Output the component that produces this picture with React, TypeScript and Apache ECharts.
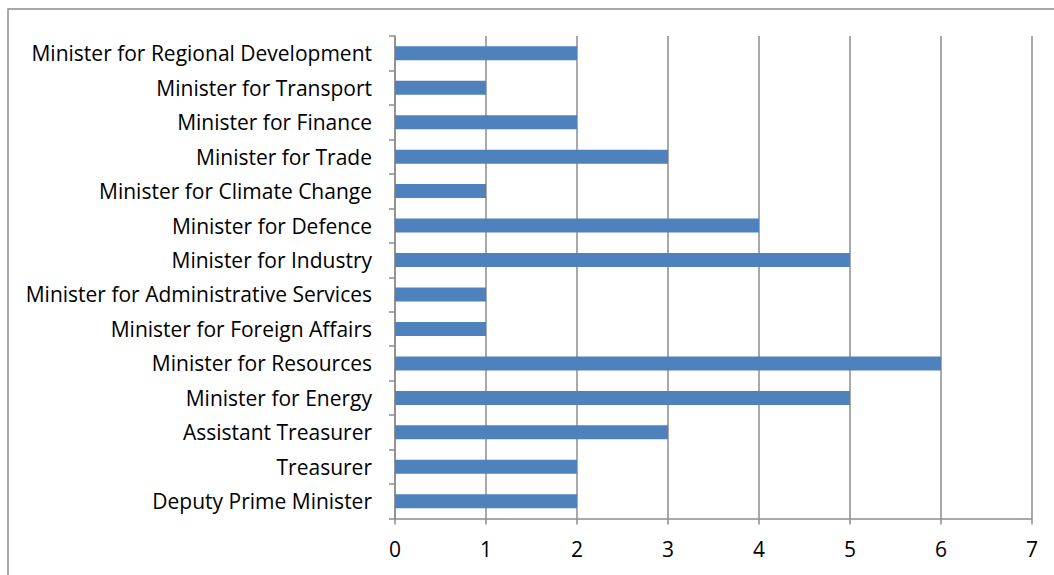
import React, { useEffect, useRef } from "react";
import * as echarts from "echarts";

const categories = [
  "Deputy Prime Minister",
  "Treasurer",
  "Assistant Treasurer",
  "Minister for Energy",
  "Minister for Resources",
  "Minister for Foreign Affairs",
  "Minister for Administrative Services",
  "Minister for Industry",
  "Minister for Defence",
  "Minister for Climate Change",
  "Minister for Trade",
  "Minister for Finance",
  "Minister for Transport",
  "Minister for Regional Development",
];
const values = [2, 2, 3, 5, 6, 1, 1, 5, 4, 1, 3, 2, 1, 2];
const xMin = 0;
const xMax = 7;
const xInterval = 1;

export default function App() {
  const ref = useRef<HTMLDivElement>(null);
  useEffect(() => {
    if (!ref.current) return;
    const chart = echarts.init(ref.current, undefined, { renderer: "svg" });
    const font = "'Open Sans', sans-serif";
    chart.setOption({
      animation: false,
      backgroundColor: "#ffffff",
      graphic: [
        {
          type: "rect",
          shape: { x: 8, y: 9, width: 1100, height: 620 },
          style: { fill: "none", stroke: "#8c8c8c", lineWidth: 1.5 },
          silent: true,
        },
      ],
      grid: { left: 395, right: 22, top: 36, bottom: 56.5, containLabel: false },
      xAxis: {
        type: "value",
        min: xMin,
        max: xMax,
        interval: xInterval,
        axisLine: { show: true, lineStyle: { color: "#8c8c8c", width: 1.5 } },
        axisTick: { show: true, length: 6, lineStyle: { color: "#8c8c8c", width: 1.5 } },
        splitLine: { show: true, lineStyle: { color: "#8c8c8c", width: 1.5 } },
        axisLabel: { color: "#000", fontSize: 21, fontFamily: font, margin: 20 },
      },
      yAxis: {
        type: "category",
        data: categories,
        axisLine: { show: true, lineStyle: { color: "#8c8c8c", width: 1.5 } },
        axisTick: { show: true, length: 6, lineStyle: { color: "#8c8c8c", width: 1.5 } },
        axisLabel: { color: "#000", fontSize: 21, fontFamily: font, margin: 23 },
      },
      series: [
        {
          type: "bar",
          data: values,
          barWidth: 14,
          itemStyle: { color: "#4f81bd" },
        },
      ],
    });
    return () => chart.dispose();
  }, []);
  return (
    <div
      ref={ref}
      style={{ position: "absolute", left: 0, top: 0, width: 1054, height: 575 }}
    />
  );
}
